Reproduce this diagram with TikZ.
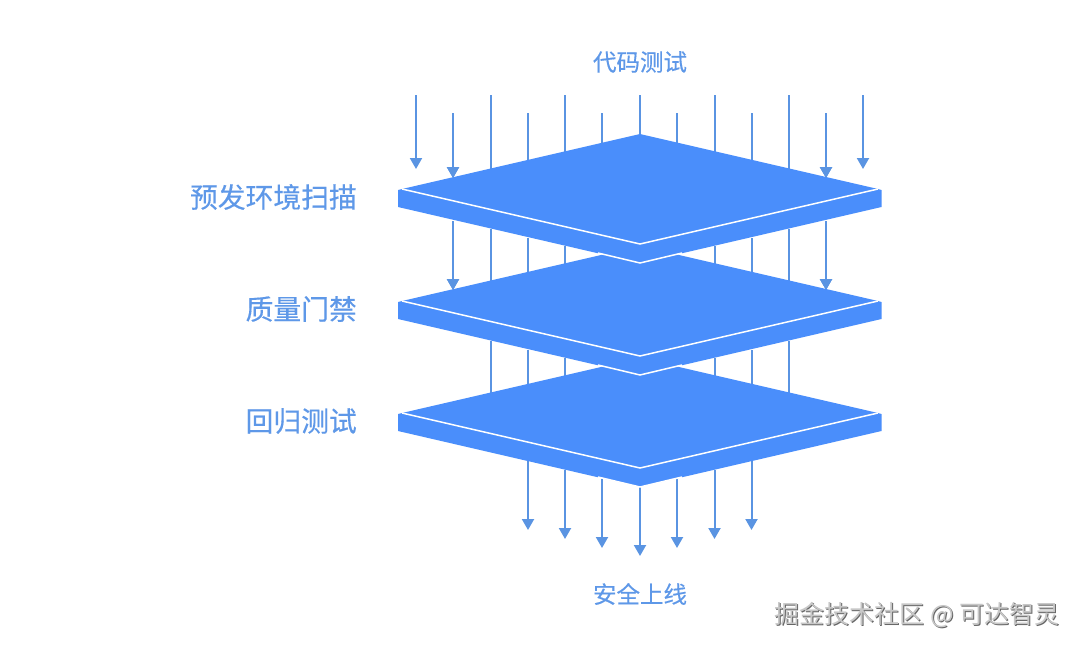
\documentclass[tikz,border=0pt]{standalone}
\usepackage{fontspec}
\newfontfamily\cjk[FakeBold=0.35]{Noto Sans CJK SC}
\newfontfamily\cjkwm{Noto Sans CJK SC}
\usetikzlibrary{arrows.meta}
\definecolor{plateblue}{HTML}{4A8EFB}
\definecolor{linkblue}{HTML}{5A94E2}
\definecolor{labelblue}{HTML}{5E98E8}
\tikzset{
  feed/.style={draw=linkblue,fill=linkblue,line width=2pt,-{Triangle[length=11pt,width=12pt]}},
  plainline/.style={draw=linkblue,line width=2pt},
  lab/.style={inner sep=0pt,text=labelblue,font=\cjk\fontsize{#1}{#1}\selectfont},
  wmark/.style={inner sep=0pt,font=\cjkwm\fontsize{25}{25}\selectfont},
  slabfill/.style={fill=plateblue,draw=none},
  rim/.style={draw=white,line width=1.5pt,line join=miter}
}
\newcommand{\slab}[1]{%
  \fill[slabfill] (398,#1+1) -- (402,#1) -- (640,#1-55) -- (878,#1) -- (881.5,#1+1) -- (881.5,#1+18) -- (640,#1+74) -- (398,#1+18) -- cycle;
  \draw[rim] (402,#1) -- (640,#1+55) -- (878,#1);
  \draw[rim] (598,#1+64) -- (640,#1+74) -- (682,#1+64);
}
\begin{document}
\begin{tikzpicture}[x=1pt,y=-1pt]
\useasboundingbox (0,0) rectangle (1080,648);
\fill[white] (0,0) rectangle (1080,648);
% arrows entering the top slab
\foreach \n/\x/\ya/\yb in {a/416/95/169,b/453/113/178,m/863/95/169,l/826/113/178}{
  \coordinate (\n-s) at (\x,\ya); \coordinate (\n-e) at (\x,\yb);
  \draw[feed] (\n-s) -- (\n-e);}
\foreach \n/\x/\ya/\yb in {c/490.5/95/170,d/528/113/170,e/565/95/160,f/602/113/150,g/640/95/140,h/677/113/150,i/714.5/95/160,j/751.5/113/170,k/788.5/95/170}{
  \coordinate (\n-s) at (\x,\ya); \coordinate (\n-e) at (\x,\yb);
  \draw[plainline] (\n-s) -- (\n-e);}
% between first and second slab
\foreach \n/\x/\ya/\yb in {p/453/221/290,q/826/221/290}{
  \coordinate (\n-s) at (\x,\ya); \coordinate (\n-e) at (\x,\yb);
  \draw[feed] (\n-s) -- (\n-e);}
\foreach \n/\x/\ya/\yb in {r/490.5/229/285,s/528/238/275,t/565/246/265,u/714.5/246/265,v/751.5/238/275,w/788.5/229/285}{
  \coordinate (\n-s) at (\x,\ya); \coordinate (\n-e) at (\x,\yb);
  \draw[plainline] (\n-s) -- (\n-e);}
% between second and third slab
\foreach \n/\x/\ya/\yb in {aa/490.5/341/395,ab/528/350/385,ac/565/358/378,ad/714.5/358/378,ae/751.5/350/385,af/788.5/341/395}{
  \coordinate (\n-s) at (\x,\ya); \coordinate (\n-e) at (\x,\yb);
  \draw[plainline] (\n-s) -- (\n-e);}
% leaving the third slab
\foreach \n/\x/\ya/\yb in {ba/528/461/530,bb/565/470/539,bc/602/479/548,bd/640/487/556,be/677/479/548,bf/714.5/470/539,bg/751.5/461/530}{
  \coordinate (\n-s) at (\x,\ya); \coordinate (\n-e) at (\x,\yb);
  \draw[feed] (\n-s) -- (\n-e);}
% slabs, lowest first
\slab{413}
\slab{301}
\slab{189}
% re-draw the arrows whose heads rest on a slab edge
\draw[feed] (p-s) -- (p-e);
\draw[feed] (q-s) -- (q-e);
\draw[feed] (b-s) -- (b-e);
\draw[feed] (l-s) -- (l-e);
% labels
\node[lab=23.5] (top) at (640,62) {代码测试};
\node[lab=27.8,anchor=east] (l1) at (357,197) {预发环境扫描};
\node[lab=27.8,anchor=east] (l2) at (357,309) {质量门禁};
\node[lab=27.8,anchor=east] (l3) at (357,421) {回归测试};
\node[lab=23.5] (bot) at (640,594) {安全上线};
% watermark
\node[wmark,text=black!60,anchor=east] (wms) at (1060.7,615.7) {掘金技术社区 @ 可达智灵};
\node[wmark,text=black!22,anchor=east] (wm) at (1060,615) {掘金技术社区 @ 可达智灵};
\end{tikzpicture}
\end{document}
